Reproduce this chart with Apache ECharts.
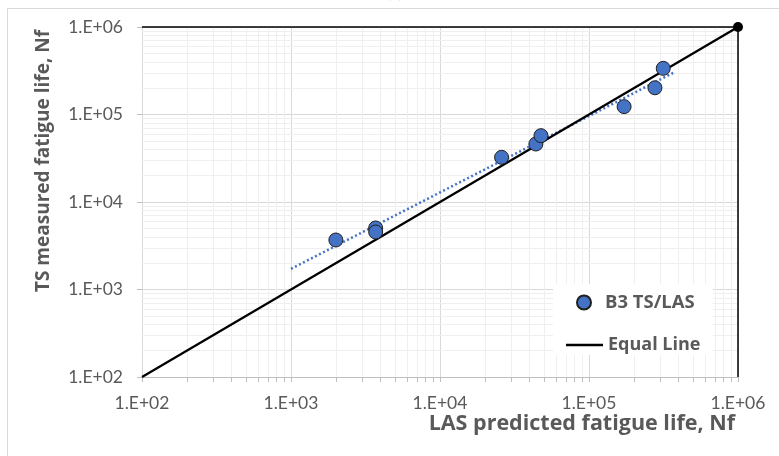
<!DOCTYPE html>
<html>
<head>
<meta charset="utf-8">
<script src="https://cdn.jsdelivr.net/npm/echarts@6/dist/echarts.min.js"></script>
<style>
  html, body { margin: 0; padding: 0; background: #fff; }
  #chart { width: 779px; height: 456px; }
</style>
</head>
<body>
<div id="chart"></div>
<script>
// Fatigue life: LAS prediction versus time-sweep (TS) measurement, log-log
const lasPredicted = [2000, 3700, 3700, 25900, 44000, 47600, 172000, 277000, 315000];
const tsMeasured   = [3680, 5050, 4540, 32400, 46000, 57300, 123000, 202000, 337000];

// Equal (1:1) line end points
const equalLineX = [100, 1000000];
const equalLineY = [100, 1000000];

// Power trendline span (extended beyond the data like a spreadsheet forecast)
const trendFrom = 1000;
const trendTo = 380000;

// Axis range and decade tick labels
const decadeValues = [100, 1000, 10000, 100000, 1000000];
const decadeLabels = ['1.E+02', '1.E+03', '1.E+04', '1.E+05', '1.E+06'];
const minorMultipliers = [2, 3, 4, 5, 6, 7, 8, 9];

const FONT = 'Lato, "Open Sans", sans-serif';
const BOLD_FONT = '"Open Sans", Lato, sans-serif';
const TEXT_GREY = '#595959';

// least-squares power fit y = a * x^b in log-log space
function powerFit(xs, ys) {
  const lx = xs.map(Math.log10), ly = ys.map(Math.log10);
  const n = lx.length;
  const mx = lx.reduce((s, v) => s + v, 0) / n;
  const my = ly.reduce((s, v) => s + v, 0) / n;
  let sxy = 0, sxx = 0;
  for (let i = 0; i < n; i++) { sxy += (lx[i] - mx) * (ly[i] - my); sxx += (lx[i] - mx) ** 2; }
  const b = sxy / sxx;
  const a = my - b * mx;
  return x => Math.pow(10, a + b * Math.log10(x));
}
const trend = powerFit(lasPredicted, tsMeasured);

// minor grid positions 2..9 inside each decade
const minorValues = [];
decadeValues.slice(0, -1).forEach(d => minorMultipliers.forEach(m => minorValues.push(d * m)));
const allXTicks = decadeValues.concat(minorValues).sort((a, b) => a - b);

const labelFor = v => {
  const i = decadeValues.findIndex(d => Math.abs(Math.log10(d) - Math.log10(v)) < 1e-6);
  return i >= 0 ? decadeLabels[i] : '';
};

const chart = echarts.init(document.getElementById('chart'), null, { renderer: 'canvas' });

const minorGridStyle = { color: '#efefef', width: 1, type: 'solid' };

chart.setOption({
  animation: false,
  backgroundColor: '#ffffff',
  grid: { left: 142, right: 41, top: 27, bottom: 79, containLabel: false },
  xAxis: {
    type: 'log', logBase: 10, min: 100, max: 1000000,
    axisLine: { show: true, lineStyle: { color: '#bfbfbf', width: 1 } },
    axisTick: { show: true, length: 5, customValues: allXTicks, lineStyle: { color: '#bfbfbf' } },
    axisLabel: { formatter: labelFor, color: TEXT_GREY, fontFamily: FONT, fontSize: 17.5, margin: 17 },
    splitLine: { show: true, lineStyle: { color: '#d9d9d9', width: 1 } }
  },
  yAxis: {
    type: 'log', logBase: 10, min: 100, max: 1000000,
    axisLine: { show: true, lineStyle: { color: '#d9d9d9', width: 1 } },
    axisTick: { show: true, length: 5, lineStyle: { color: '#bfbfbf' } },
    axisLabel: { formatter: labelFor, color: TEXT_GREY, fontFamily: FONT, fontSize: 17.5, margin: 19 },
    splitLine: { show: true, lineStyle: { color: '#d9d9d9', width: 1 } }
  },
  legend: [
    {
      data: [{ name: 'B3 TS/LAS', icon: 'circle' }],
      left: 571, top: 288, itemWidth: 14, itemHeight: 14, z: 10,
      textStyle: { color: TEXT_GREY, fontFamily: BOLD_FONT, fontSize: 18.5, fontWeight: 'bold', padding: [0, 0, 0, 9] }
    },
    {
      data: [{ name: 'Equal Line', icon: 'rect' }],
      left: 561, top: 331, itemWidth: 37, itemHeight: 2.5, z: 10,
      textStyle: { color: TEXT_GREY, fontFamily: BOLD_FONT, fontSize: 18, fontWeight: 'bold' }
    }
  ],
  graphic: [
    // outer chart-area border
    { type: 'rect', z: 0, silent: true, shape: { x: 7.5, y: 8.5, width: 900, height: 600 },
      style: { fill: null, stroke: '#d9d9d9', lineWidth: 1 } },
    // legend box background
    { type: 'rect', z: 8, silent: true, shape: { x: 553, y: 284, width: 160, height: 71 },
      style: { fill: '#ffffff', stroke: null } },
    // panel caption, mostly above the page edge
    { type: 'text', z: 1, silent: true, left: 387, top: -15,
      style: { text: '(c)', fill: '#404040', font: '16px ' + FONT } },
    // axis titles
    { type: 'text', z: 10, silent: true, right: 44, top: 413,
      style: { text: 'LAS predicted fatigue life, Nf', fill: TEXT_GREY, font: 'bold 21.5px ' + BOLD_FONT } },
    { type: 'text', z: 10, silent: true, x: 44, y: 161, rotation: Math.PI / 2,
      style: { text: 'TS measured fatigue life, Nf', fill: TEXT_GREY, font: 'bold 19px ' + BOLD_FONT,
               align: 'center', verticalAlign: 'middle' } }
  ],
  series: [
    {
      name: 'minor-grid', type: 'line', data: [], silent: true, z: 0,
      markLine: {
        silent: true, symbol: ['none', 'none'], label: { show: false }, z: 1,
        lineStyle: minorGridStyle, animation: false,
        data: minorValues.map(v => ({ xAxis: v })).concat(minorValues.map(v => ({ yAxis: v })))
      }
    },
    {
      name: 'trend', type: 'line', silent: true, symbol: 'none', z: 3,
      lineStyle: { color: '#4472C4', width: 2.5, type: [2, 2.5] },
      data: [[trendFrom, trend(trendFrom)], [trendTo, trend(trendTo)]]
    },
    {
      name: 'Equal Line', type: 'line', symbol: 'none', clip: false, z: 4,
      lineStyle: { color: '#000000', width: 2.25 },
      itemStyle: { color: '#000000' },
      data: equalLineX.map((x, i) => [x, equalLineY[i]])
    },
    {
      name: 'frame', type: 'line', silent: true, clip: false, z: 4,
      symbol: 'circle', symbolSize: 0, showSymbol: true,
      lineStyle: { color: '#000000', width: 1.5 },
      itemStyle: { color: '#000000' },
      data: [
        { value: [100, 1000000], symbolSize: 0 },
        { value: [1000000, 1000000], symbolSize: 10 },
        { value: [1000000, 100], symbolSize: 0 }
      ]
    },
    {
      name: 'B3 TS/LAS', type: 'scatter', z: 5, symbol: 'circle', symbolSize: 14,
      itemStyle: { color: '#4472C4', borderColor: '#1f1f1f', borderWidth: 1, opacity: 1 },
      data: lasPredicted.map((x, i) => [x, tsMeasured[i]])
    }
  ]
});
</script>
</body>
</html>
